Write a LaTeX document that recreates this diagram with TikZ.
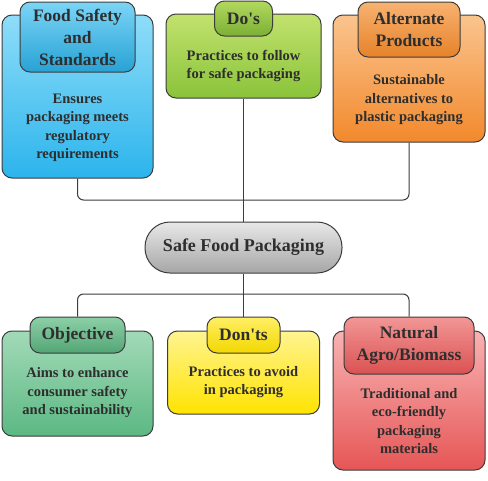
\documentclass[tikz,border=0pt]{standalone}
\usepackage{fontspec}
\setmainfont{Liberation Serif}
\usetikzlibrary{calc}

\definecolor{ink}{HTML}{2E2E2E}
\definecolor{edge}{HTML}{3C3C3C}
\definecolor{bluelt}{HTML}{8FDDF9}
\definecolor{bluedk}{HTML}{2CB4EC}
\definecolor{greenlt}{HTML}{C2E26E}
\definecolor{greendk}{HTML}{8AC33A}
\definecolor{orangelt}{HTML}{FAC48E}
\definecolor{orangedk}{HTML}{F2892C}
\definecolor{mintlt}{HTML}{A2DAB8}
\definecolor{mintdk}{HTML}{5CB883}
\definecolor{yellowlt}{HTML}{FFF490}
\definecolor{yellowdk}{HTML}{FFE300}
\definecolor{redlt}{HTML}{F8B2B2}
\definecolor{reddk}{HTML}{E65656}
\definecolor{greylt}{HTML}{E8E8E8}
\definecolor{greydk}{HTML}{A6A6A6}

\begin{document}
\begin{tikzpicture}[x=1pt,y=-1pt,
		box/.style={draw=edge,line width=1pt,rounded corners=10pt,inner sep=0pt},
		head/.style={box,font=\fontsize{17.5}{22}\selectfont\bfseries,text=ink,align=center},
		body/.style={font=\fontsize{14.5}{18.5}\selectfont\bfseries,text=ink,align=center},
		link/.style={draw=edge,line width=1pt,rounded corners=6pt}]
		
		\useasboundingbox (0,0) rectangle (488,480);
		
		% top row
		\node (fs) at (77.5,96.5) [box,minimum width=151pt,minimum height=163pt,top color=bluelt,bottom color=bluedk] {};
		\node (fsh) at (77.5,37) [head,minimum width=115pt,minimum height=70pt,top color=bluelt!80!bluedk,bottom color=bluedk!90!black] {Food Safety\\and\\Standards};
		\node (fst) at (77.5,128) [body] {Ensures\\packaging meets\\regulatory\\requirements};
		
		\node (dos) at (243.5,56) [box,minimum width=155pt,minimum height=84pt,top color=greenlt,bottom color=greendk] {};
		\node (dosh) at (243.5,18.5) [head,minimum width=58pt,minimum height=35pt,top color=greenlt!70!greendk,bottom color=greendk!90!black] {Do\textquotesingle s};
		\node (dost) at (243.5,66) [body] {Practices to follow\\for safe packaging};
		
		\node (alt) at (409,78.5) [box,minimum width=152pt,minimum height=127pt,top color=orangelt,bottom color=orangedk] {};
		\node (alth) at (409,29.5) [head,minimum width=102pt,minimum height=55pt,top color=orangelt!70!orangedk,bottom color=orangedk!95!black] {Alternate\\Products};
		\node (altt) at (409,100) [body] {Sustainable\\alternatives to\\plastic packaging};
		
		% centre
		\node (sfp) at (243.5,247.5) [draw=edge,line width=1pt,rounded corners=25pt,minimum width=197pt,minimum height=51pt,top color=greylt,bottom color=greydk,font=\fontsize{18}{20}\selectfont\bfseries,text=ink] {Safe Food Packaging};
		
		% bottom row
		\node (obj) at (77.5,383.5) [box,minimum width=151pt,minimum height=105pt,top color=mintlt,bottom color=mintdk] {};
		\node (objh) at (77.5,335) [head,minimum width=95pt,minimum height=36pt,top color=mintlt!70!mintdk,bottom color=mintdk!90!black] {Objective};
		\node (objt) at (77.5,393) [body] {Aims to enhance\\consumer safety\\and sustainability};
		
		\node (dnt) at (243.5,372.5) [box,minimum width=152pt,minimum height=83pt,top color=yellowlt,bottom color=yellowdk] {};
		\node (dnth) at (243.5,335) [head,minimum width=73pt,minimum height=36pt,top color=yellowlt!70!yellowdk,bottom color=yellowdk!95!black] {Don\textquotesingle ts};
		\node (dntt) at (243.5,382) [body] {Practices to avoid\\in packaging};
		
		\node (nat) at (409,400.5) [box,minimum width=152pt,minimum height=139pt,top color=redlt,bottom color=reddk] {};
		\node (nath) at (409,345.5) [head,minimum width=130pt,minimum height=57pt,top color=redlt!70!reddk,bottom color=reddk!95!black] {Natural\\Agro/Biomass};
		\node (natt) at (409,421) [body] {Traditional and\\eco-friendly\\packaging\\materials};
		
		% connectors
		\coordinate (up) at (243.5,200);
		\coordinate (lo) at (243.5,294);
		\draw[link] (fs.south) |- (up) -| (alt.south);
		\draw[link] (dos.south) -- (sfp.north);
		\draw[link] (sfp.south) -- (lo);
		\draw[link] (objh.north) |- (lo) -| (nath.north);
		\draw[link] (lo) -- (dnth.north);
		
	\end{tikzpicture}
\end{document}
